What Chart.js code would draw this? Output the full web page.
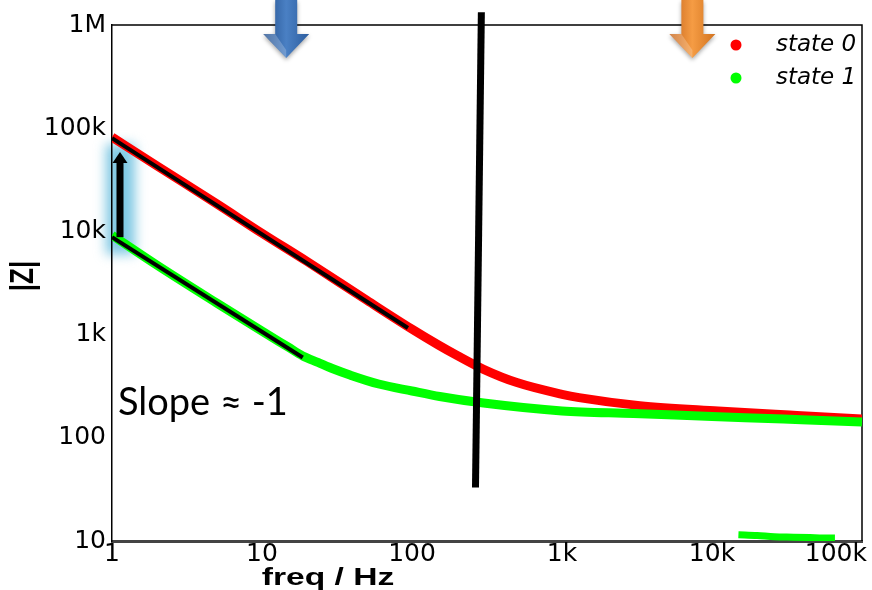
<!DOCTYPE html>
<html>
<head>
<meta charset="utf-8">
<title>|Z| vs freq</title>
<script src="https://cdn.jsdelivr.net/npm/chart.js@4.4.1/dist/chart.umd.min.js"></script>
<style>
  html, body { margin: 0; padding: 0; background: #fff; }
  #chart { display: block; }
</style>
</head>
<body>
<canvas id="chart" width="872" height="590"></canvas>
<script>
// impedance magnitude, state 0 (red)
const freq0 = [1, 2, 5, 10, 20, 50, 100, 150, 200, 300, 500, 1000, 1300, 3300, 11000, 33000, 100000, 110000];
const z0    = [82000, 43000, 18500, 9600, 5100, 2150, 1130, 793, 627, 461, 343, 264, 245, 205, 182, 166, 152, 151];

// impedance magnitude, state 1 (green)
const freq1 = [1, 2, 5, 10, 14.9, 18.7, 23.6, 30, 38.6, 60, 100, 153, 300, 1000, 3000, 10000, 30000, 100000, 110000];
const z1    = [9200, 4700, 2020, 1080, 759, 621, 538, 464, 406, 332, 284, 251, 217, 182, 172, 161, 152, 142, 141];

// stray state 1 readings sitting on the floor of the plot
const freqStray = [15000, 20000, 26000, 35000, 45000, 55000, 66000];
const zStray    = [11.5, 11.3, 11.0, 10.9, 10.8, 10.7, 10.7];

// slope -1 fits
const fitFreq0 = [1, 94];
const fitZ0    = [80000, 1160];
const fitFreq1 = [1, 18.7];
const fitZ1    = [8800, 600];

// vertical marker near 280 Hz
const markFreq = [290, 265];
const markZ    = [1330000, 33];

// axes
const xTicks = [1, 10, 100, 1000, 10000, 100000];
const xTickLabels = ['1', '10', '100', '1k', '10k', '100k'];
const yTicks = [10, 100, 1000, 10000, 100000, 1000000];
const yTickLabels = ['10', '100', '1k', '10k', '100k', '1M'];

const pts = (xs, ys) => xs.map((v, i) => ({ x: v, y: ys[i] }));

function downArrow(ctx, cx, tipY, c1, c2, c3) {
  const shaftW = 22, headW = 46, headH = 24;
  ctx.save();
  ctx.shadowColor = 'rgba(0,0,0,0.35)';
  ctx.shadowBlur = 4;
  ctx.shadowOffsetY = 2;
  const g = ctx.createLinearGradient(cx - headW / 2, 0, cx + headW / 2, 0);
  g.addColorStop(0, c1);
  g.addColorStop(0.5, c2);
  g.addColorStop(1, c3);
  ctx.fillStyle = g;
  ctx.beginPath();
  ctx.moveTo(cx - shaftW / 2, 0);
  ctx.lineTo(cx + shaftW / 2, 0);
  ctx.lineTo(cx + shaftW / 2, tipY - headH);
  ctx.lineTo(cx + headW / 2, tipY - headH);
  ctx.lineTo(cx, tipY);
  ctx.lineTo(cx - headW / 2, tipY - headH);
  ctx.lineTo(cx - shaftW / 2, tipY - headH);
  ctx.closePath();
  ctx.fill();
  ctx.restore();
  // bevel on the head
  ctx.save();
  ctx.fillStyle = 'rgba(255,255,255,0.22)';
  ctx.beginPath();
  ctx.moveTo(cx - headW / 2, tipY - headH);
  ctx.lineTo(cx - shaftW / 2, tipY - headH);
  ctx.lineTo(cx, tipY - 8);
  ctx.lineTo(cx, tipY);
  ctx.closePath();
  ctx.fill();
  ctx.restore();
}

const tickFont = { family: 'DejaVu Sans', size: 25 };

const extras = {
  id: 'extras',
  beforeDraw(chart) {
    const { ctx, scales: { x, y } } = chart;
    // soft blue glow behind the jump arrow
    const gx = x.getPixelForValue(1);
    const gTop = y.getPixelForValue(70000);
    const gBot = y.getPixelForValue(6000);
    ctx.save();
    ctx.filter = 'blur(6px)';
    ctx.fillStyle = 'rgba(105, 190, 222, 0.85)';
    ctx.fillRect(gx - 6, gTop, 29, gBot - gTop);
    ctx.restore();
  },
  beforeDatasetsDraw(chart) {
    const { ctx, chartArea: a } = chart;
    // top and right frame
    ctx.save();
    ctx.strokeStyle = '#000';
    ctx.lineWidth = 1.5;
    ctx.beginPath();
    ctx.moveTo(a.left, a.top);
    ctx.lineTo(a.right, a.top);
    ctx.lineTo(a.right, a.bottom);
    ctx.stroke();
    ctx.restore();
  },
  afterDraw(chart) {
    const { ctx, chartArea: a, scales: { x, y } } = chart;

    // x tick labels, last one pulled back inside the canvas
    ctx.save();
    ctx.fillStyle = '#000';
    ctx.font = tickFont.size + 'px "' + tickFont.family + '"';
    ctx.textAlign = 'center';
    ctx.textBaseline = 'top';
    xTicks.forEach((v, i) => {
      const w = ctx.measureText(xTickLabels[i]).width;
      const cx = Math.min(x.getPixelForValue(v), chart.width - w / 2 - 5);
      ctx.fillText(xTickLabels[i], cx, a.bottom + 1);
    });
    ctx.restore();

    // state jump arrow
    const ax = x.getPixelForValue(1) + 8;
    const aBot = y.getPixelForValue(z1[0]) + 2;
    const aTip = y.getPixelForValue(z0[0]) + 15;
    ctx.save();
    ctx.fillStyle = '#000';
    ctx.fillRect(ax - 3.5, aTip + 10, 7, aBot - aTip - 10);
    ctx.beginPath();
    ctx.moveTo(ax - 7.5, aTip + 11);
    ctx.lineTo(ax + 7.5, aTip + 11);
    ctx.lineTo(ax, aTip);
    ctx.closePath();
    ctx.fill();
    ctx.restore();

    // marker arrows along the top
    downArrow(ctx, x.getPixelForValue(14.5), 58, '#234f8c', '#4a80c4', '#2c5d9e');
    downArrow(ctx, x.getPixelForValue(7400), 58, '#c5631a', '#f59c44', '#d2731f');

    // slope note
    ctx.save();
    ctx.fillStyle = '#000';
    ctx.font = '38px Lato';
    ctx.textBaseline = 'alphabetic';
    ctx.fillText('Slope \u2248 -1', a.left + 6, 415);
    ctx.restore();

    // legend
    const ds = chart.data.datasets;
    [[ds[5], 45], [ds[3], 78]].forEach(([d, ly]) => {
      ctx.save();
      ctx.fillStyle = d.borderColor;
      ctx.beginPath();
      ctx.arc(a.right - 126, ly, 5.5, 0, Math.PI * 2);
      ctx.fill();
      ctx.fillStyle = '#000';
      ctx.font = 'italic 23px "DejaVu Sans"';
      ctx.textBaseline = 'middle';
      ctx.fillText(d.label, a.right - 86, ly);
      ctx.restore();
    });

    // axis titles
    ctx.save();
    ctx.fillStyle = '#000';
    ctx.translate(328, 585);
    ctx.scale(1.4, 1);
    ctx.font = 'bold 24px "Liberation Sans"';
    ctx.textAlign = 'center';
    ctx.textBaseline = 'alphabetic';
    ctx.fillText('freq / Hz', 0, 0);
    ctx.restore();

    ctx.save();
    ctx.fillStyle = '#000';
    ctx.translate(24, 276);
    ctx.scale(1.25, 1);
    ctx.rotate(-Math.PI / 2);
    ctx.font = 'bold 26px "Liberation Sans"';
    ctx.textAlign = 'center';
    ctx.textBaseline = 'middle';
    ctx.fillText('|Z|', 0, 0);
    ctx.restore();
  }
};

new Chart(document.getElementById('chart'), {
  type: 'scatter',
  data: {
    datasets: [
      { label: 'marker', data: pts(markFreq, markZ), showLine: true, borderColor: '#000', borderWidth: 7, pointRadius: 0, clip: false, order: 0 },
      { label: 'fit 0', data: pts(fitFreq0, fitZ0), showLine: true, borderColor: '#000', borderWidth: 4, pointRadius: 0, order: 1 },
      { label: 'fit 1', data: pts(fitFreq1, fitZ1), showLine: true, borderColor: '#000', borderWidth: 4, pointRadius: 0, order: 1 },
      { label: 'state 1', data: pts(freq1, z1), showLine: true, borderColor: '#00ff00', backgroundColor: '#00ff00', borderWidth: 9, cubicInterpolationMode: 'monotone', pointRadius: 0, order: 2 },
      { label: 'state 1 stray', data: pts(freqStray, zStray), showLine: true, borderColor: '#00ff00', borderWidth: 7, cubicInterpolationMode: 'monotone', pointRadius: 0, order: 3 },
      { label: 'state 0', data: pts(freq0, z0), showLine: true, borderColor: '#ff0000', backgroundColor: '#ff0000', borderWidth: 9, cubicInterpolationMode: 'monotone', pointRadius: 0, order: 4 }
    ]
  },
  options: {
    responsive: false,
    animation: false,
    events: [],
    layout: { padding: { top: 25, right: 10, left: 0, bottom: 0 } },
    plugins: { legend: { display: false }, tooltip: { enabled: false } },
    scales: {
      x: {
        type: 'logarithmic',
        min: 1,
        max: 100000,
        afterBuildTicks: s => { s.ticks = xTicks.map(v => ({ value: v })); },
        afterFit: s => { s.height = 49; s.paddingLeft = 0; s.paddingRight = 0; },
        ticks: { display: false },
        grid: { display: false, drawTicks: false },
        border: { color: '#444', width: 3 }
      },
      y: {
        type: 'logarithmic',
        min: 10,
        max: 1000000,
        afterBuildTicks: s => { s.ticks = yTicks.map(v => ({ value: v })); },
        afterFit: s => { s.width = 112; s.paddingTop = 0; s.paddingBottom = 0; },
        ticks: {
          callback: (v, i) => yTickLabels[i],
          font: tickFont,
          color: '#000',
          autoSkip: false,
          padding: 6
        },
        grid: { display: false, drawTicks: false },
        border: { color: '#000', width: 1.5 }
      }
    }
  },
  plugins: [extras]
});
</script>
</body>
</html>
